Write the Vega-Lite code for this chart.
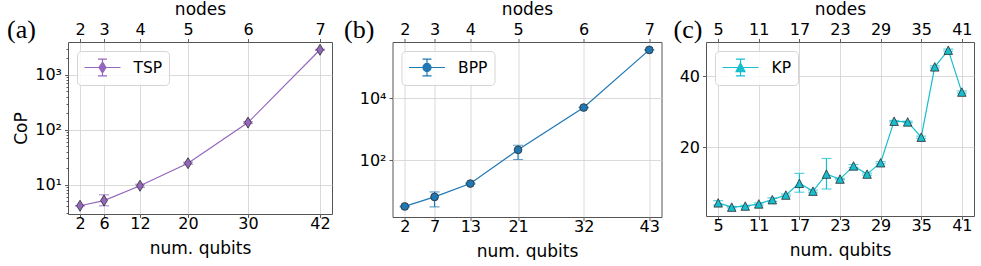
{
  "$schema": "https://vega.github.io/schema/vega-lite/v6.json",
  "background": "white",
  "padding": {"left": 6, "top": 0, "right": 0, "bottom": 0},
  "spacing": 10.5,
  "datasets": {
    "tsp": [
      {"qubits": 2, "cop": 4.1, "low": 4.1, "high": 4.1},
      {"qubits": 6, "cop": 5.1, "low": 4.1, "high": 6.5},
      {"qubits": 12, "cop": 9.5, "low": 8.9, "high": 10.1},
      {"qubits": 20, "cop": 24.5, "low": 23.5, "high": 25.5},
      {"qubits": 30, "cop": 135, "low": 130, "high": 140},
      {"qubits": 42, "cop": 2870, "low": 2800, "high": 2940}
    ],
    "bpp": [
      {"qubits": 2, "cop": 3.2, "low": 3.1, "high": 3.3},
      {"qubits": 7, "cop": 6.5, "low": 3.1, "high": 9.4},
      {"qubits": 13, "cop": 17.5, "low": 16.8, "high": 18.2},
      {"qubits": 21, "cop": 215, "low": 105, "high": 302},
      {"qubits": 32, "cop": 5000, "low": 4900, "high": 5100},
      {"qubits": 43, "cop": 363000, "low": 360000, "high": 366000}
    ],
    "kp": [
      {"qubits": 5, "cop": 4.3, "low": 3.7, "high": 4.9},
      {"qubits": 7, "cop": 3.1, "low": 2.9, "high": 3.3},
      {"qubits": 9, "cop": 3.4, "low": 3.2, "high": 3.6},
      {"qubits": 11, "cop": 4.0, "low": 3.7, "high": 4.3},
      {"qubits": 13, "cop": 5.2, "low": 4.7, "high": 5.7},
      {"qubits": 15, "cop": 6.5, "low": 6.2, "high": 6.8},
      {"qubits": 17, "cop": 9.8, "low": 7.3, "high": 12.6},
      {"qubits": 19, "cop": 7.6, "low": 7.3, "high": 7.9},
      {"qubits": 21, "cop": 12.4, "low": 8.2, "high": 16.8},
      {"qubits": 23, "cop": 11.0, "low": 10.8, "high": 11.2},
      {"qubits": 25, "cop": 14.7, "low": 14.3, "high": 15.1},
      {"qubits": 27, "cop": 12.4, "low": 12.1, "high": 12.7},
      {"qubits": 29, "cop": 15.6, "low": 15.3, "high": 15.9},
      {"qubits": 31, "cop": 27.3, "low": 27.1, "high": 27.5},
      {"qubits": 33, "cop": 27.1, "low": 26.9, "high": 27.3},
      {"qubits": 35, "cop": 22.8, "low": 22.5, "high": 23.1},
      {"qubits": 37, "cop": 42.6, "low": 42.3, "high": 42.9},
      {"qubits": 39, "cop": 47.3, "low": 47.0, "high": 47.6},
      {"qubits": 41, "cop": 35.5, "low": 35.2, "high": 35.8}
    ]
  },
  "hconcat": [
    {
      "width": 264,
      "height": 172,
      "data": {"name": "tsp"},
      "title": {"text": "(a)", "dx": -61, "dy": 46},
      "resolve": {"axis": {"x": "independent", "y": "independent"}},
      "layer": [
        {
          "mark": {"type": "errorbar", "color": "#9467bd", "thickness": 1.2, "ticks": {"size": 10, "thickness": 1.2}},
          "encoding": {
            "x": {"field": "qubits", "type": "quantitative", "scale": {"domain": [0, 44], "nice": false, "zero": false},
                  "axis": {"orient": "bottom", "values": [2, 6, 12, 20, 30, 42], "title": "num. qubits", "grid": true, "labelPadding": -2, "titlePadding": 9}},
            "y": {"field": "low", "type": "quantitative", "scale": {"type": "log", "domain": [2.9, 3981], "nice": false},
                  "axis": {"orient": "left", "values": [10, 100, 1000], "title": "CoP", "grid": true,
                           "labelExpr": "datum.value == 10 ? '10¹' : datum.value == 100 ? '10²' : '10³'"}},
            "y2": {"field": "high"}
          }
        },
        {
          "mark": {"type": "line", "color": "#9467bd", "strokeWidth": 1.2},
          "encoding": {
            "x": {"field": "qubits", "type": "quantitative",
                  "axis": {"orient": "top", "values": [2, 6, 12, 20, 30, 42], "title": "nodes", "grid": false, "labelPadding": 1, "titlePadding": 3,
                           "labelExpr": "datum.value == 2 ? '2' : datum.value == 6 ? '3' : datum.value == 12 ? '4' : datum.value == 20 ? '5' : datum.value == 30 ? '6' : '7'"}},
            "y": {"field": "cop", "type": "quantitative", "axis": null}
          }
        },
        {
          "mark": {"type": "point", "filled": true, "shape": "M0,-1L0.62,0L0,1L-0.62,0Z", "size": 121, "stroke": "#2b2b2b", "strokeWidth": 0.8, "opacity": 1},
          "encoding": {
            "x": {"field": "qubits", "type": "quantitative", "axis": null},
            "y": {"field": "cop", "type": "quantitative",
                  "axis": {"orient": "left", "values": [3, 4, 5, 6, 7, 8, 9, 20, 30, 40, 50, 60, 70, 80, 90, 200, 300, 400, 500, 600, 700, 800, 900, 2000, 3000],
                           "labels": false, "tickSize": 2, "grid": false, "title": null}},
            "fill": {"datum": "TSP", "type": "nominal", "scale": {"range": ["#9467bd"]},
                     "legend": {"symbolType": "M-1,0H3M1,-0.61L1.39,0L1,0.61L0.61,0ZM1,-0.93V0.93M0.5,-0.93H1.5M0.5,0.93H1.5",
                                "symbolStrokeColor": "#9467bd", "symbolFillColor": "#9467bd",
                                "encode": {"symbols": {"update": {"stroke": {"value": "#9467bd"}, "fill": {"value": "#9467bd"}, "strokeWidth": {"value": 1.2}, "shape": {"value": "M-1,0H3M1,-0.61L1.39,0L1,0.61L0.61,0ZM1,-0.93V0.93M0.5,-0.93H1.5M0.5,0.93H1.5"}, "size": {"value": 324}}}}}}
          }
        }
      ]
    },
    {
      "width": 269,
      "height": 175,
      "data": {"name": "bpp"},
      "title": {"text": "(b)", "dx": -48.5, "dy": 46},
      "resolve": {"axis": {"x": "independent", "y": "independent"}},
      "layer": [
        {
          "mark": {"type": "errorbar", "color": "#1f77b4", "thickness": 1.2, "ticks": {"size": 10, "thickness": 1.2}},
          "encoding": {
            "x": {"field": "qubits", "type": "quantitative", "scale": {"domain": [-0.05, 45.05], "nice": false, "zero": false},
                  "axis": {"orient": "bottom", "values": [2, 7, 13, 21, 32, 43], "title": "num. qubits", "grid": true, "labelPadding": -2, "titlePadding": 9}},
            "y": {"field": "low", "type": "quantitative", "scale": {"type": "log", "domain": [1.46, 652000], "nice": false},
                  "axis": {"orient": "left", "values": [100, 10000], "title": null, "grid": true,
                           "labelExpr": "datum.value == 100 ? '10²' : '10⁴'"}},
            "y2": {"field": "high"}
          }
        },
        {
          "mark": {"type": "line", "color": "#1f77b4", "strokeWidth": 1.2},
          "encoding": {
            "x": {"field": "qubits", "type": "quantitative",
                  "axis": {"orient": "top", "values": [2, 7, 13, 21, 32, 43], "title": "nodes", "grid": false, "labelPadding": 1, "titlePadding": 3,
                           "labelExpr": "datum.value == 2 ? '2' : datum.value == 7 ? '3' : datum.value == 13 ? '4' : datum.value == 21 ? '5' : datum.value == 32 ? '6' : '7'"}},
            "y": {"field": "cop", "type": "quantitative", "axis": null}
          }
        },
        {
          "mark": {"type": "point", "filled": true, "shape": "circle", "size": 60, "stroke": "#2b2b2b", "strokeWidth": 0.8, "opacity": 1},
          "encoding": {
            "x": {"field": "qubits", "type": "quantitative", "axis": null},
            "y": {"field": "cop", "type": "quantitative", "axis": null},
            "fill": {"datum": "BPP", "type": "nominal", "scale": {"range": ["#1f77b4"]},
                     "legend": {"symbolType": "M-1,0H3M1.45,0A0.45,0.45 0 1 1 0.55,0A0.45,0.45 0 1 1 1.45,0ZM1,-0.93V0.93M0.5,-0.93H1.5M0.5,0.93H1.5",
                                "symbolStrokeColor": "#1f77b4", "symbolFillColor": "#1f77b4",
                                "encode": {"symbols": {"update": {"stroke": {"value": "#1f77b4"}, "fill": {"value": "#1f77b4"}, "strokeWidth": {"value": 1.2}, "shape": {"value": "M-1,0H3M1.45,0A0.45,0.45 0 1 1 0.55,0A0.45,0.45 0 1 1 1.45,0ZM1,-0.93V0.93M0.5,-0.93H1.5M0.5,0.93H1.5"}, "size": {"value": 324}}}}}}
          }
        }
      ]
    },
    {
      "width": 268,
      "height": 174,
      "data": {"name": "kp"},
      "title": {"text": "(c)", "dx": -32.5, "dy": 46},
      "resolve": {"axis": {"x": "independent", "y": "independent"}},
      "layer": [
        {
          "mark": {"type": "errorbar", "color": "#17becf", "thickness": 1.2, "ticks": {"size": 10, "thickness": 1.2}},
          "encoding": {
            "x": {"field": "qubits", "type": "quantitative", "scale": {"domain": [3.2, 42.8], "nice": false, "zero": false},
                  "axis": {"orient": "bottom", "values": [5, 11, 17, 23, 29, 35, 41], "title": "num. qubits", "grid": true, "labelPadding": -2, "titlePadding": 9}},
            "y": {"field": "low", "type": "quantitative", "scale": {"domain": [0.6, 49.6], "nice": false, "zero": false},
                  "axis": {"orient": "left", "values": [20, 40], "title": null, "grid": true}},
            "y2": {"field": "high"}
          }
        },
        {
          "mark": {"type": "line", "color": "#17becf", "strokeWidth": 1.2},
          "encoding": {
            "x": {"field": "qubits", "type": "quantitative",
                  "axis": {"orient": "top", "values": [5, 11, 17, 23, 29, 35, 41], "title": "nodes", "grid": false, "labelPadding": 1, "titlePadding": 3}},
            "y": {"field": "cop", "type": "quantitative", "axis": null}
          }
        },
        {
          "mark": {"type": "point", "filled": true, "shape": "M0,-1L1,1L-1,1Z", "size": 72, "stroke": "#2b2b2b", "strokeWidth": 0.8, "opacity": 1},
          "encoding": {
            "x": {"field": "qubits", "type": "quantitative", "axis": null},
            "y": {"field": "cop", "type": "quantitative", "axis": null},
            "fill": {"datum": "KP", "type": "nominal", "scale": {"range": ["#17becf"]},
                     "legend": {"symbolType": "M-1,0H3M1,-0.5L1.5,0.45L0.5,0.45ZM1,-0.93V0.93M0.5,-0.93H1.5M0.5,0.93H1.5",
                                "symbolStrokeColor": "#17becf", "symbolFillColor": "#17becf",
                                "encode": {"symbols": {"update": {"stroke": {"value": "#17becf"}, "fill": {"value": "#17becf"}, "strokeWidth": {"value": 1.2}, "shape": {"value": "M-1,0H3M1,-0.5L1.5,0.45L0.5,0.45ZM1,-0.93V0.93M0.5,-0.93H1.5M0.5,0.93H1.5"}, "size": {"value": 324}}}}}}
          }
        }
      ]
    }
  ],
  "resolve": {"scale": {"fill": "independent"}, "legend": {"fill": "independent"}},
  "config": {
    "font": "DejaVu Sans",
    "view": {"stroke": "#555555", "strokeWidth": 1},
    "axis": {
      "labelFont": "DejaVu Sans", "labelFontSize": 16, "labelColor": "#000000",
      "titleFont": "DejaVu Sans", "titleFontSize": 17, "titleFontWeight": "normal", "titleColor": "#000000",
      "domain": false, "tickColor": "#333333", "tickSize": 3.5, "tickWidth": 0.8,
      "gridColor": "#d0d0d0", "gridWidth": 0.8, "labelPadding": 3, "titlePadding": 4, "labelFlush": false, "labelOverlap": false
    },
    "legend": {
      "orient": "top-left", "offset": 9, "title": null,
      "fillColor": "rgba(255,255,255,0.85)", "strokeColor": "#d5d5d5", "cornerRadius": 4, "padding": 6.5,
      "labelFont": "DejaVu Sans", "labelFontSize": 15.5, "labelColor": "#000000", "labelOffset": 30,
      "symbolSize": 324, "symbolStrokeWidth": 1.2
    },
    "title": {"font": "Liberation Serif", "fontSize": 26, "fontWeight": "normal", "anchor": "start", "frame": "group", "color": "#000000", "offset": 0, "baseline": "alphabetic"}
  }
}
